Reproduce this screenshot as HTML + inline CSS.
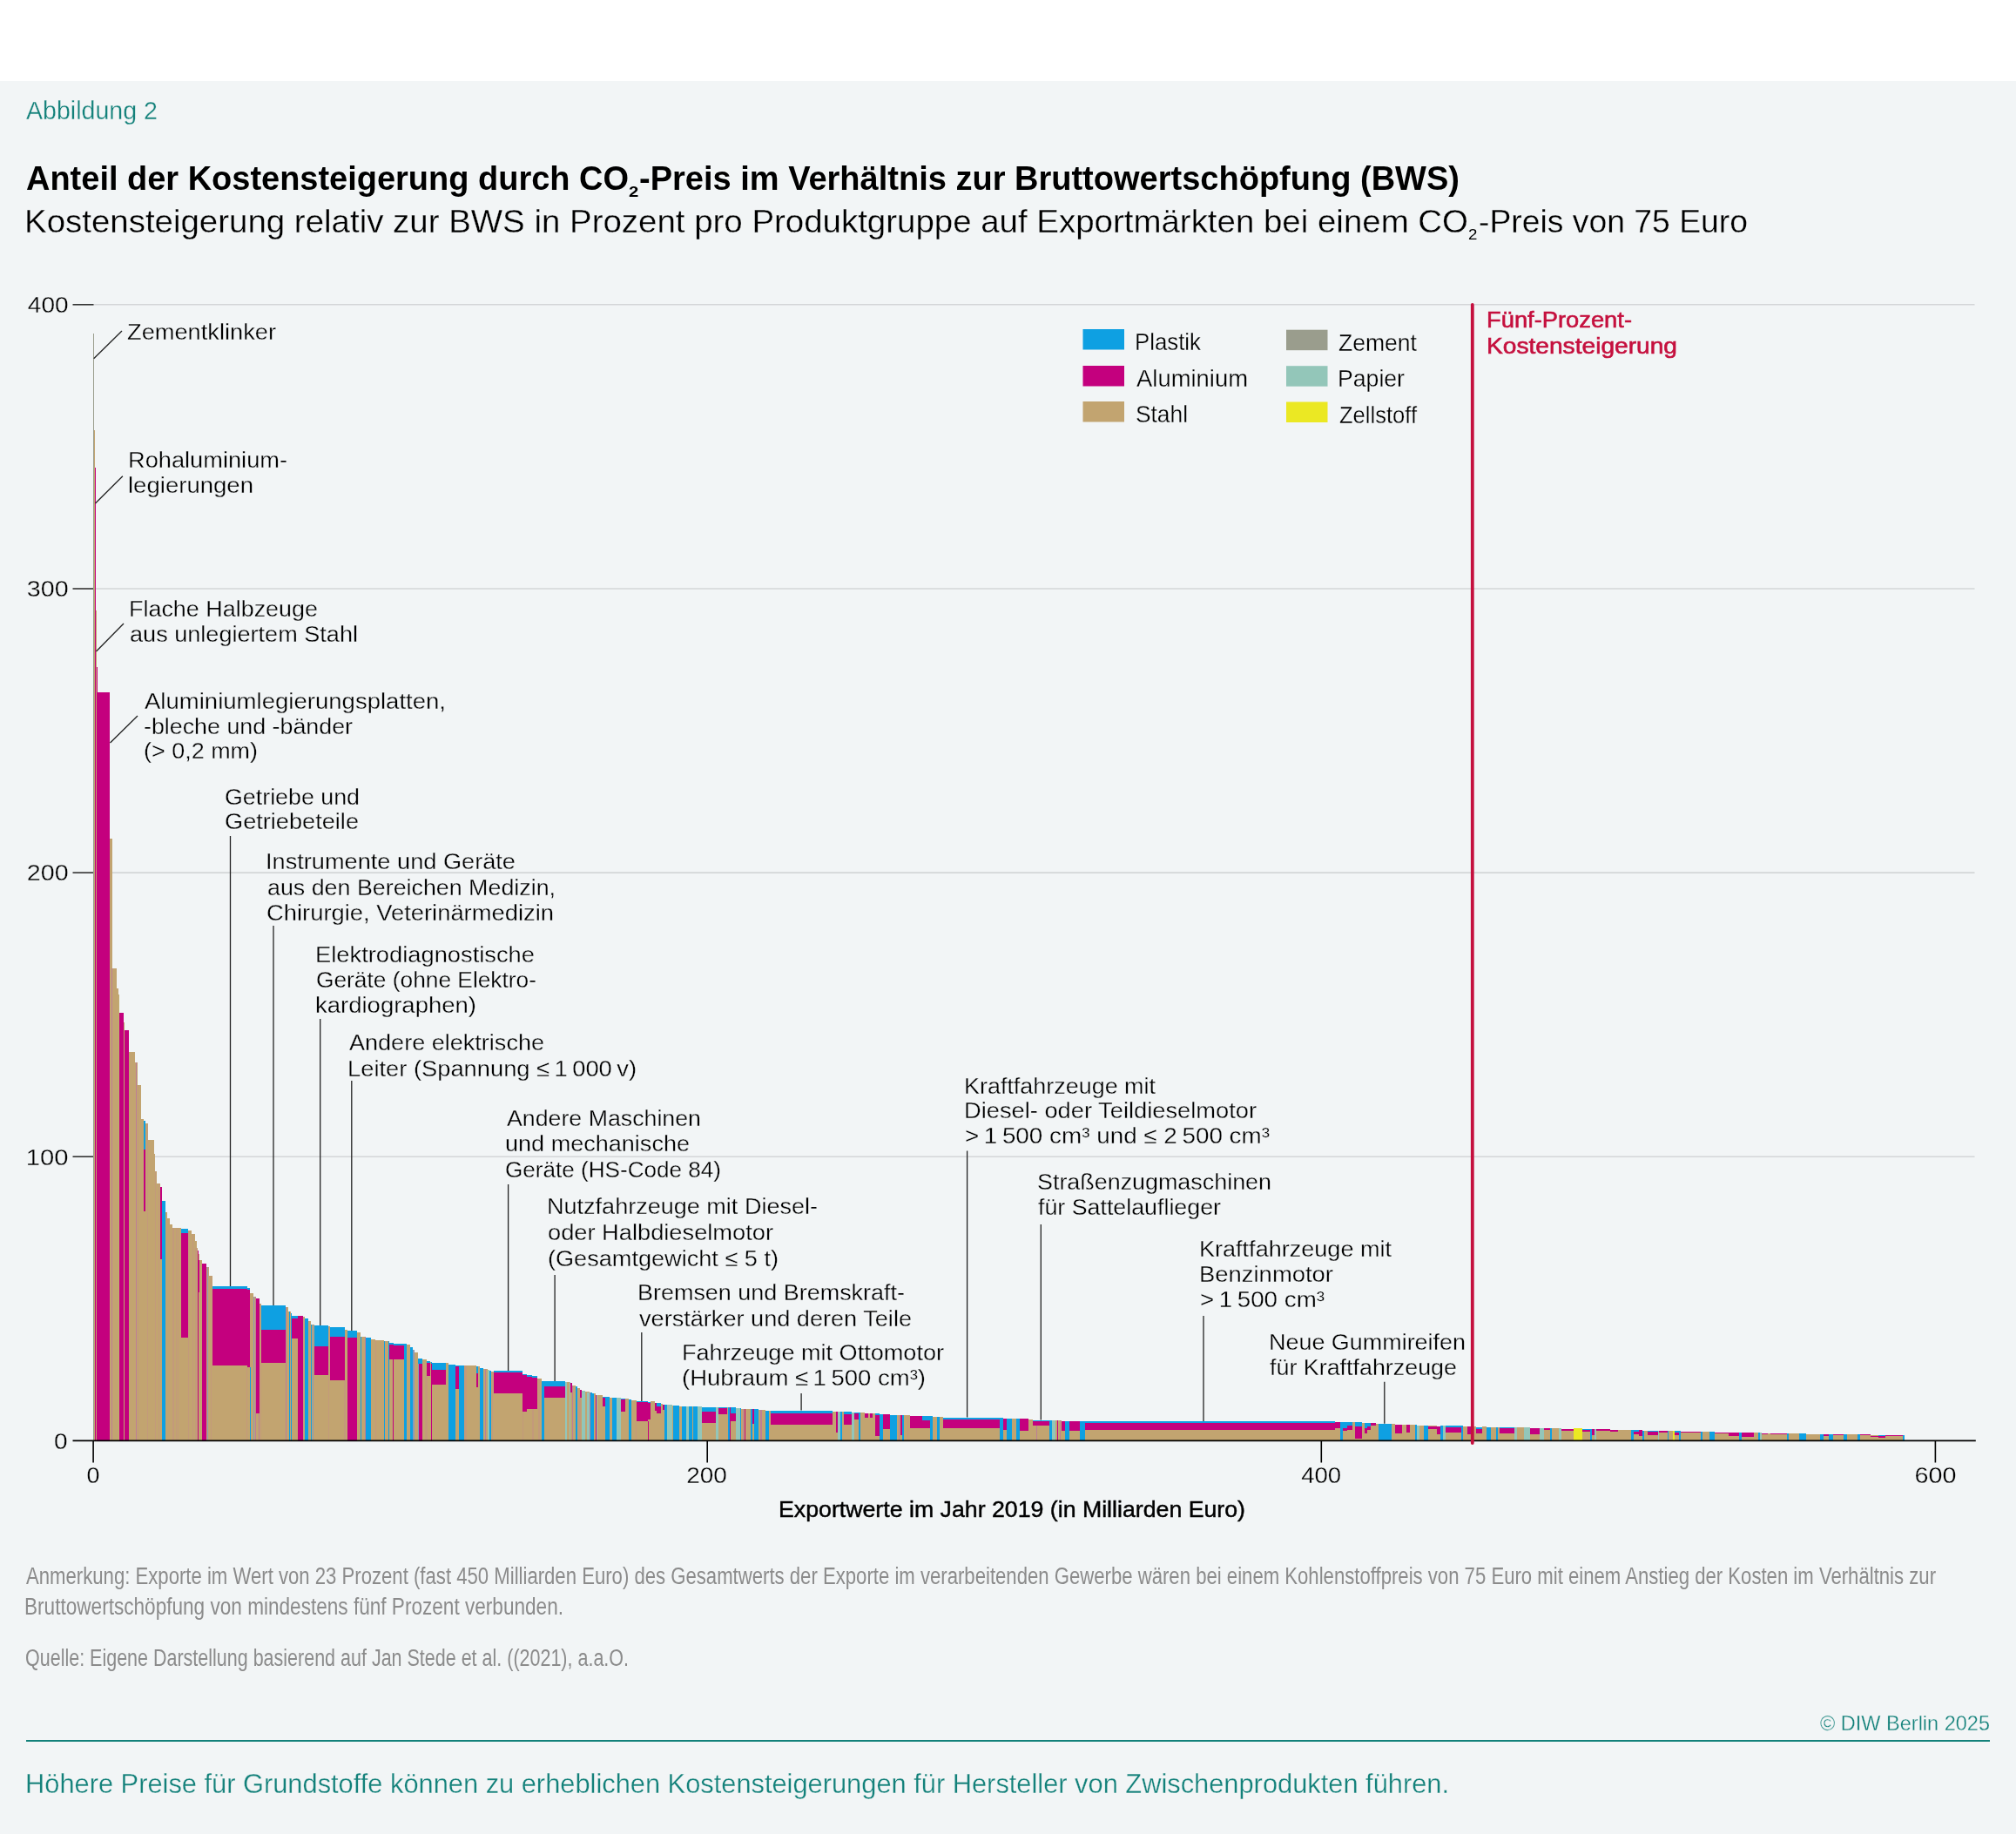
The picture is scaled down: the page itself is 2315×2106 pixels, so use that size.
<!DOCTYPE html>
<html lang="de"><head><meta charset="utf-8"><title>Abbildung 2 – DIW Berlin</title>
<style>
html,body{margin:0;padding:0;background:#f2f5f6;}
body{width:2315px;height:2106px;overflow:hidden;}
svg{display:block;font-family:'Liberation Sans', Arial, sans-serif;will-change:transform;}
</style></head><body>
<svg width="2315" height="2106" viewBox="0 0 2315 2106">
<rect x="0" y="0" width="2315" height="93" fill="#ffffff"/>
<rect x="0" y="93" width="2315" height="2013" fill="#f2f5f6"/>
<text x="30.00" y="137.0" font-size="29" fill="#13817a" textLength="151.00" lengthAdjust="spacingAndGlyphs" stroke="#f2f5f6" stroke-width="0.3">Abbildung 2</text>
<text x="30.00" y="217.6" font-size="39" fill="#000" font-weight="bold" textLength="692.00" lengthAdjust="spacingAndGlyphs">Anteil der Kostensteigerung durch CO</text>
<text x="722.00" y="226.0" font-size="17" fill="#000" font-weight="bold" textLength="11.30" lengthAdjust="spacingAndGlyphs">2</text>
<text x="734.00" y="217.6" font-size="39" fill="#000" font-weight="bold" textLength="942.00" lengthAdjust="spacingAndGlyphs">-Preis im Verhältnis zur Bruttowertschöpfung (BWS)</text>
<text x="28.00" y="266.7" font-size="37.5" fill="#000" textLength="1658.00" lengthAdjust="spacingAndGlyphs" stroke="#f2f5f6" stroke-width="0.3">Kostensteigerung relativ zur BWS in Prozent pro Produktgruppe auf Exportmärkten bei einem CO</text>
<text x="1686.00" y="274.8" font-size="17" fill="#000" textLength="10.40" lengthAdjust="spacingAndGlyphs">2</text>
<text x="1698.00" y="266.7" font-size="37.5" fill="#000" textLength="309.00" lengthAdjust="spacingAndGlyphs" stroke="#f2f5f6" stroke-width="0.3">-Preis von 75 Euro</text>
<line x1="107" y1="1328.2" x2="2267.5" y2="1328.2" stroke="#d3d6d7" stroke-width="1.6"/>
<line x1="83.5" y1="1328.2" x2="107.5" y2="1328.2" stroke="#333" stroke-width="1.6"/>
<line x1="107" y1="1002.1" x2="2267.5" y2="1002.1" stroke="#d3d6d7" stroke-width="1.6"/>
<line x1="83.5" y1="1002.1" x2="107.5" y2="1002.1" stroke="#333" stroke-width="1.6"/>
<line x1="107" y1="676.0" x2="2267.5" y2="676.0" stroke="#d3d6d7" stroke-width="1.6"/>
<line x1="83.5" y1="676.0" x2="107.5" y2="676.0" stroke="#333" stroke-width="1.6"/>
<line x1="107" y1="349.8" x2="2267.5" y2="349.8" stroke="#d3d6d7" stroke-width="1.6"/>
<line x1="83.5" y1="349.8" x2="107.5" y2="349.8" stroke="#333" stroke-width="1.6"/>
<text x="62.00" y="1663.7" font-size="26.5" fill="#000" textLength="15.60" lengthAdjust="spacingAndGlyphs" stroke="#f2f5f6" stroke-width="0.3">0</text>
<text x="29.80" y="1337.5" font-size="26.5" fill="#000" textLength="48.80" lengthAdjust="spacingAndGlyphs" stroke="#f2f5f6" stroke-width="0.3">100</text>
<text x="30.80" y="1011.4" font-size="26.5" fill="#000" textLength="47.80" lengthAdjust="spacingAndGlyphs" stroke="#f2f5f6" stroke-width="0.3">200</text>
<text x="30.80" y="685.3" font-size="26.5" fill="#000" textLength="47.80" lengthAdjust="spacingAndGlyphs" stroke="#f2f5f6" stroke-width="0.3">300</text>
<text x="31.80" y="359.1" font-size="26.5" fill="#000" textLength="46.80" lengthAdjust="spacingAndGlyphs" stroke="#f2f5f6" stroke-width="0.3">400</text>
<g shape-rendering="crispEdges">
<rect x="107.0" y="383.0" width="1.2" height="1271.4" fill="#9a9d8d"/>
<rect x="108.2" y="493.6" width="0.6" height="1160.8" fill="#c2a470"/>
<rect x="108.8" y="537.0" width="1.5" height="1117.4" fill="#c4007e"/>
<rect x="110.3" y="701.0" width="0.6" height="953.4" fill="#c2a470"/>
<rect x="110.9" y="766.0" width="1.1" height="888.4" fill="#c4007e"/>
<rect x="112.0" y="795.0" width="14.3" height="859.4" fill="#c4007e"/>
<rect x="126.3" y="963.0" width="2.2" height="691.4" fill="#c2a470"/>
<rect x="128.5" y="1050.0" width="0.5" height="604.4" fill="#c2a470"/>
<rect x="129.0" y="1112.0" width="4.5" height="542.4" fill="#c2a470"/>
<rect x="133.5" y="1135.0" width="2.5" height="519.4" fill="#c2a470"/>
<rect x="136.0" y="1142.0" width="1.0" height="512.4" fill="#c2a470"/>
<rect x="137.0" y="1163.0" width="4.8" height="491.4" fill="#c4007e"/>
<rect x="141.8" y="1174.0" width="1.2" height="480.4" fill="#c2a470"/>
<rect x="143.0" y="1183.0" width="5.0" height="471.4" fill="#c4007e"/>
<rect x="148.0" y="1208.0" width="7.0" height="446.4" fill="#c2a470"/>
<rect x="155.0" y="1220.0" width="2.5" height="434.4" fill="#c2a470"/>
<rect x="157.5" y="1246.0" width="4.5" height="408.4" fill="#c2a470"/>
<rect x="162.0" y="1285.0" width="3.0" height="369.4" fill="#c2a470"/>
<rect x="165.0" y="1287.0" width="2.0" height="33.0" fill="#0ea0e2"/>
<rect x="165.0" y="1320.0" width="2.0" height="71.0" fill="#c4007e"/>
<rect x="165.0" y="1391.0" width="2.0" height="263.4" fill="#c2a470"/>
<rect x="167.0" y="1290.0" width="3.0" height="364.4" fill="#c2a470"/>
<rect x="170.0" y="1309.0" width="6.5" height="345.4" fill="#c2a470"/>
<rect x="176.5" y="1325.0" width="1.5" height="329.4" fill="#c2a470"/>
<rect x="178.0" y="1345.0" width="2.0" height="309.4" fill="#c2a470"/>
<rect x="180.0" y="1359.0" width="4.0" height="295.4" fill="#c2a470"/>
<rect x="184.0" y="1363.0" width="1.5" height="83.0" fill="#c4007e"/>
<rect x="184.0" y="1446.0" width="1.5" height="208.4" fill="#c2a470"/>
<rect x="185.5" y="1379.0" width="4.0" height="275.4" fill="#0ea0e2"/>
<rect x="189.5" y="1392.0" width="2.5" height="262.4" fill="#c2a470"/>
<rect x="192.0" y="1399.0" width="3.0" height="255.4" fill="#c2a470"/>
<rect x="195.0" y="1406.0" width="3.0" height="248.4" fill="#c2a470"/>
<rect x="198.0" y="1410.0" width="10.0" height="244.4" fill="#c2a470"/>
<rect x="208.0" y="1411.0" width="8.0" height="5.0" fill="#0ea0e2"/>
<rect x="208.0" y="1416.0" width="8.0" height="120.0" fill="#c4007e"/>
<rect x="208.0" y="1536.0" width="8.0" height="118.4" fill="#c2a470"/>
<rect x="216.0" y="1413.0" width="4.0" height="241.4" fill="#c2a470"/>
<rect x="220.0" y="1417.0" width="4.0" height="237.4" fill="#c2a470"/>
<rect x="224.0" y="1425.0" width="1.5" height="229.4" fill="#c2a470"/>
<rect x="225.5" y="1433.0" width="1.4" height="221.4" fill="#c2a470"/>
<rect x="226.9" y="1436.0" width="1.1" height="218.4" fill="#c4007e"/>
<rect x="228.0" y="1440.0" width="1.0" height="7.0" fill="#c2a470"/>
<rect x="228.0" y="1447.0" width="1.0" height="37.0" fill="#c4007e"/>
<rect x="228.0" y="1484.0" width="1.0" height="170.4" fill="#c2a470"/>
<rect x="229.0" y="1447.0" width="3.0" height="207.4" fill="#c2a470"/>
<rect x="232.0" y="1451.0" width="5.0" height="203.4" fill="#c4007e"/>
<rect x="237.0" y="1455.0" width="3.0" height="199.4" fill="#c2a470"/>
<rect x="240.0" y="1465.0" width="4.0" height="189.4" fill="#c2a470"/>
<rect x="244.0" y="1477.0" width="40.0" height="3.0" fill="#0ea0e2"/>
<rect x="244.0" y="1480.0" width="40.0" height="88.0" fill="#c4007e"/>
<rect x="244.0" y="1568.0" width="40.0" height="86.4" fill="#c2a470"/>
<rect x="284.0" y="1479.0" width="3.0" height="2.0" fill="#0ea0e2"/>
<rect x="284.0" y="1481.0" width="3.0" height="89.0" fill="#c4007e"/>
<rect x="284.0" y="1570.0" width="3.0" height="84.4" fill="#c2a470"/>
<rect x="287.0" y="1485.0" width="4.0" height="169.4" fill="#c2a470"/>
<rect x="291.0" y="1489.0" width="3.0" height="165.4" fill="#c2a470"/>
<rect x="294.0" y="1491.0" width="3.6" height="132.0" fill="#c4007e"/>
<rect x="294.0" y="1623.0" width="3.6" height="31.4" fill="#c2a470"/>
<rect x="297.6" y="1497.0" width="2.4" height="157.4" fill="#c2a470"/>
<rect x="300.0" y="1499.0" width="27.5" height="27.5" fill="#0ea0e2"/>
<rect x="300.0" y="1526.5" width="27.5" height="38.5" fill="#c4007e"/>
<rect x="300.0" y="1565.0" width="27.5" height="89.4" fill="#c2a470"/>
<rect x="327.5" y="1501.0" width="3.5" height="153.4" fill="#c2a470"/>
<rect x="331.0" y="1506.0" width="3.0" height="148.4" fill="#c2a470"/>
<rect x="334.0" y="1508.0" width="1.0" height="146.4" fill="#0ea0e2"/>
<rect x="335.0" y="1511.0" width="7.0" height="3.0" fill="#0ea0e2"/>
<rect x="335.0" y="1514.0" width="7.0" height="23.0" fill="#c4007e"/>
<rect x="335.0" y="1537.0" width="7.0" height="117.4" fill="#c2a470"/>
<rect x="342.0" y="1511.0" width="6.0" height="143.4" fill="#c4007e"/>
<rect x="348.0" y="1512.0" width="2.0" height="142.4" fill="#c2a470"/>
<rect x="350.0" y="1514.0" width="4.0" height="140.4" fill="#0ea0e2"/>
<rect x="354.0" y="1517.0" width="3.0" height="137.4" fill="#c2a470"/>
<rect x="357.0" y="1521.0" width="3.5" height="133.4" fill="#c2a470"/>
<rect x="360.5" y="1522.0" width="16.5" height="24.0" fill="#0ea0e2"/>
<rect x="360.5" y="1546.0" width="16.5" height="33.0" fill="#c4007e"/>
<rect x="360.5" y="1579.0" width="16.5" height="75.4" fill="#c2a470"/>
<rect x="377.0" y="1523.0" width="1.5" height="131.4" fill="#c2a470"/>
<rect x="378.5" y="1524.0" width="17.0" height="11.0" fill="#0ea0e2"/>
<rect x="378.5" y="1535.0" width="17.0" height="50.0" fill="#c4007e"/>
<rect x="378.5" y="1585.0" width="17.0" height="69.4" fill="#c2a470"/>
<rect x="395.5" y="1527.0" width="3.0" height="127.4" fill="#c2a470"/>
<rect x="398.5" y="1528.0" width="11.5" height="8.0" fill="#0ea0e2"/>
<rect x="398.5" y="1536.0" width="11.5" height="118.4" fill="#c4007e"/>
<rect x="410.0" y="1530.0" width="4.0" height="124.4" fill="#c2a470"/>
<rect x="414.0" y="1535.0" width="6.0" height="119.4" fill="#c2a470"/>
<rect x="420.0" y="1536.0" width="6.0" height="118.4" fill="#0ea0e2"/>
<rect x="426.0" y="1538.0" width="5.0" height="116.4" fill="#c2a470"/>
<rect x="431.0" y="1539.0" width="10.0" height="115.4" fill="#c2a470"/>
<rect x="441.0" y="1540.0" width="6.0" height="114.4" fill="#c2a470"/>
<rect x="447.0" y="1542.0" width="5.0" height="2.0" fill="#0ea0e2"/>
<rect x="447.0" y="1544.0" width="5.0" height="17.0" fill="#c4007e"/>
<rect x="447.0" y="1561.0" width="5.0" height="93.4" fill="#c2a470"/>
<rect x="452.0" y="1543.0" width="11.5" height="2.0" fill="#0ea0e2"/>
<rect x="452.0" y="1545.0" width="11.5" height="16.0" fill="#c4007e"/>
<rect x="452.0" y="1561.0" width="11.5" height="93.4" fill="#c2a470"/>
<rect x="463.5" y="1543.0" width="3.5" height="111.4" fill="#0ea0e2"/>
<rect x="467.0" y="1544.0" width="4.0" height="110.4" fill="#c2a470"/>
<rect x="471.0" y="1547.0" width="3.0" height="107.4" fill="#0ea0e2"/>
<rect x="474.0" y="1550.0" width="2.0" height="104.4" fill="#8e9ab5"/>
<rect x="476.0" y="1553.0" width="4.0" height="101.4" fill="#c2a470"/>
<rect x="480.0" y="1560.0" width="5.0" height="6.0" fill="#0ea0e2"/>
<rect x="480.0" y="1566.0" width="5.0" height="88.4" fill="#c4007e"/>
<rect x="485.0" y="1561.0" width="5.0" height="93.4" fill="#c2a470"/>
<rect x="490.0" y="1563.0" width="4.0" height="2.0" fill="#0ea0e2"/>
<rect x="490.0" y="1565.0" width="4.0" height="15.0" fill="#c4007e"/>
<rect x="490.0" y="1580.0" width="4.0" height="74.4" fill="#c2a470"/>
<rect x="494.0" y="1564.0" width="0.6" height="90.4" fill="#c2a470"/>
<rect x="494.6" y="1564.0" width="1.2" height="2.0" fill="#0ea0e2"/>
<rect x="494.6" y="1566.0" width="1.2" height="88.4" fill="#c4007e"/>
<rect x="495.8" y="1564.6" width="1.2" height="8.4" fill="#0ea0e2"/>
<rect x="495.8" y="1573.0" width="1.2" height="17.0" fill="#c4007e"/>
<rect x="495.8" y="1590.0" width="1.2" height="64.4" fill="#c2a470"/>
<rect x="497.0" y="1564.6" width="14.5" height="8.4" fill="#0ea0e2"/>
<rect x="497.0" y="1573.0" width="14.5" height="17.0" fill="#c4007e"/>
<rect x="497.0" y="1590.0" width="14.5" height="64.4" fill="#c2a470"/>
<rect x="511.5" y="1565.4" width="3.5" height="89.0" fill="#c2a470"/>
<rect x="515.0" y="1567.2" width="7.5" height="87.2" fill="#0ea0e2"/>
<rect x="522.5" y="1568.0" width="4.0" height="1.0" fill="#0ea0e2"/>
<rect x="522.5" y="1569.0" width="4.0" height="26.0" fill="#c4007e"/>
<rect x="522.5" y="1595.0" width="4.0" height="59.4" fill="#c2a470"/>
<rect x="526.5" y="1568.0" width="6.5" height="86.4" fill="#0ea0e2"/>
<rect x="533.0" y="1568.0" width="2.0" height="86.4" fill="#c2a470"/>
<rect x="535.0" y="1568.2" width="12.0" height="86.2" fill="#c2a470"/>
<rect x="547.0" y="1569.0" width="2.0" height="8.0" fill="#0ea0e2"/>
<rect x="547.0" y="1577.0" width="2.0" height="16.0" fill="#c4007e"/>
<rect x="547.0" y="1593.0" width="2.0" height="61.4" fill="#c2a470"/>
<rect x="549.0" y="1569.4" width="2.0" height="85.0" fill="#c2a470"/>
<rect x="551.0" y="1570.5" width="4.0" height="83.9" fill="#0ea0e2"/>
<rect x="555.0" y="1572.0" width="5.0" height="82.4" fill="#c2a470"/>
<rect x="560.0" y="1573.0" width="2.0" height="81.4" fill="#93c6b9"/>
<rect x="562.0" y="1574.0" width="2.0" height="80.4" fill="#0ea0e2"/>
<rect x="564.0" y="1574.5" width="3.0" height="79.9" fill="#c2a470"/>
<rect x="567.0" y="1574.2" width="33.0" height="1.7" fill="#0ea0e2"/>
<rect x="567.0" y="1575.9" width="33.0" height="24.0" fill="#c4007e"/>
<rect x="567.0" y="1599.9" width="33.0" height="54.5" fill="#c2a470"/>
<rect x="600.0" y="1577.7" width="5.0" height="1.3" fill="#0ea0e2"/>
<rect x="600.0" y="1579.0" width="5.0" height="42.3" fill="#c4007e"/>
<rect x="600.0" y="1621.3" width="5.0" height="33.1" fill="#c2a470"/>
<rect x="605.0" y="1579.4" width="6.0" height="1.3" fill="#0ea0e2"/>
<rect x="605.0" y="1580.7" width="6.0" height="37.1" fill="#c4007e"/>
<rect x="605.0" y="1617.8" width="6.0" height="36.6" fill="#c2a470"/>
<rect x="611.0" y="1580.3" width="5.5" height="1.7" fill="#0ea0e2"/>
<rect x="611.0" y="1582.0" width="5.5" height="35.8" fill="#c4007e"/>
<rect x="611.0" y="1617.8" width="5.5" height="36.6" fill="#c2a470"/>
<rect x="616.5" y="1583.0" width="5.5" height="71.4" fill="#c2a470"/>
<rect x="622.0" y="1585.5" width="3.0" height="68.9" fill="#0ea0e2"/>
<rect x="625.0" y="1586.4" width="24.0" height="5.9" fill="#0ea0e2"/>
<rect x="625.0" y="1592.3" width="24.0" height="12.8" fill="#c4007e"/>
<rect x="625.0" y="1605.1" width="24.0" height="49.3" fill="#c2a470"/>
<rect x="649.0" y="1587.0" width="2.0" height="67.4" fill="#93c6b9"/>
<rect x="651.0" y="1587.1" width="4.0" height="67.3" fill="#c2a470"/>
<rect x="655.0" y="1588.4" width="2.0" height="10.6" fill="#c4007e"/>
<rect x="655.0" y="1599.0" width="2.0" height="55.4" fill="#c2a470"/>
<rect x="657.0" y="1591.2" width="4.0" height="63.2" fill="#c2a470"/>
<rect x="661.0" y="1592.4" width="2.0" height="62.0" fill="#0ea0e2"/>
<rect x="663.0" y="1594.4" width="3.0" height="60.0" fill="#c2a470"/>
<rect x="666.0" y="1596.3" width="2.0" height="8.7" fill="#c4007e"/>
<rect x="666.0" y="1605.0" width="2.0" height="49.4" fill="#c2a470"/>
<rect x="668.0" y="1597.1" width="4.0" height="57.3" fill="#93c6b9"/>
<rect x="672.0" y="1597.5" width="4.5" height="56.9" fill="#c2a470"/>
<rect x="676.5" y="1599.0" width="3.5" height="55.4" fill="#0ea0e2"/>
<rect x="680.0" y="1600.3" width="4.0" height="54.1" fill="#c2a470"/>
<rect x="684.0" y="1602.0" width="8.0" height="52.4" fill="#c2a470"/>
<rect x="692.0" y="1604.0" width="3.0" height="1.0" fill="#0ea0e2"/>
<rect x="692.0" y="1605.0" width="3.0" height="9.6" fill="#c4007e"/>
<rect x="692.0" y="1614.6" width="3.0" height="39.8" fill="#c2a470"/>
<rect x="695.0" y="1603.9" width="5.0" height="50.5" fill="#0ea0e2"/>
<rect x="700.0" y="1604.5" width="2.5" height="49.9" fill="#c2a470"/>
<rect x="702.5" y="1605.0" width="5.5" height="49.4" fill="#0ea0e2"/>
<rect x="708.0" y="1605.0" width="5.0" height="49.4" fill="#93c6b9"/>
<rect x="713.0" y="1605.9" width="5.0" height="0.8" fill="#0ea0e2"/>
<rect x="713.0" y="1606.7" width="5.0" height="14.3" fill="#c4007e"/>
<rect x="713.0" y="1621.0" width="5.0" height="33.4" fill="#c2a470"/>
<rect x="718.0" y="1605.5" width="4.0" height="48.9" fill="#c2a470"/>
<rect x="722.0" y="1607.0" width="3.0" height="47.4" fill="#0ea0e2"/>
<rect x="725.0" y="1608.3" width="5.5" height="46.1" fill="#c2a470"/>
<rect x="730.5" y="1609.3" width="13.5" height="0.7" fill="#0ea0e2"/>
<rect x="730.5" y="1610.0" width="13.5" height="22.1" fill="#c4007e"/>
<rect x="730.5" y="1632.1" width="13.5" height="22.3" fill="#c2a470"/>
<rect x="744.0" y="1609.5" width="3.0" height="1.5" fill="#0ea0e2"/>
<rect x="744.0" y="1611.0" width="3.0" height="19.0" fill="#c4007e"/>
<rect x="744.0" y="1630.0" width="3.0" height="24.4" fill="#c2a470"/>
<rect x="747.0" y="1609.4" width="5.0" height="45.0" fill="#c2a470"/>
<rect x="752.0" y="1611.0" width="1.5" height="9.0" fill="#c4007e"/>
<rect x="752.0" y="1620.0" width="1.5" height="34.4" fill="#c2a470"/>
<rect x="753.5" y="1611.0" width="5.5" height="4.0" fill="#0ea0e2"/>
<rect x="753.5" y="1615.0" width="5.5" height="8.0" fill="#c4007e"/>
<rect x="753.5" y="1623.0" width="5.5" height="31.4" fill="#c2a470"/>
<rect x="759.0" y="1612.0" width="2.0" height="42.4" fill="#c2a470"/>
<rect x="761.0" y="1612.6" width="2.0" height="6.8" fill="#c4007e"/>
<rect x="761.0" y="1619.4" width="2.0" height="35.0" fill="#c2a470"/>
<rect x="763.0" y="1613.0" width="2.5" height="41.4" fill="#0ea0e2"/>
<rect x="765.5" y="1613.0" width="6.5" height="41.4" fill="#93c6b9"/>
<rect x="772.0" y="1614.0" width="1.0" height="40.4" fill="#c2a470"/>
<rect x="773.0" y="1614.0" width="7.0" height="40.4" fill="#0ea0e2"/>
<rect x="780.0" y="1614.5" width="3.0" height="39.9" fill="#c2a470"/>
<rect x="783.0" y="1614.6" width="5.0" height="39.8" fill="#0ea0e2"/>
<rect x="788.0" y="1615.0" width="3.0" height="39.4" fill="#93c6b9"/>
<rect x="791.0" y="1615.0" width="4.0" height="39.4" fill="#0ea0e2"/>
<rect x="795.0" y="1615.0" width="1.0" height="39.4" fill="#c2a470"/>
<rect x="796.0" y="1615.0" width="5.0" height="39.4" fill="#0ea0e2"/>
<rect x="801.0" y="1615.0" width="5.0" height="39.4" fill="#93c6b9"/>
<rect x="806.0" y="1615.6" width="16.0" height="5.6" fill="#0ea0e2"/>
<rect x="806.0" y="1621.2" width="16.0" height="12.7" fill="#c4007e"/>
<rect x="806.0" y="1633.9" width="16.0" height="20.5" fill="#c2a470"/>
<rect x="822.0" y="1615.6" width="3.0" height="38.8" fill="#93c6b9"/>
<rect x="825.0" y="1616.0" width="10.0" height="1.0" fill="#0ea0e2"/>
<rect x="825.0" y="1617.0" width="10.0" height="7.4" fill="#c4007e"/>
<rect x="825.0" y="1624.4" width="10.0" height="30.0" fill="#c2a470"/>
<rect x="835.0" y="1616.0" width="1.3" height="38.4" fill="#c2a470"/>
<rect x="836.3" y="1616.0" width="2.7" height="38.4" fill="#0ea0e2"/>
<rect x="839.0" y="1616.4" width="5.5" height="6.4" fill="#0ea0e2"/>
<rect x="839.0" y="1622.8" width="5.5" height="9.5" fill="#c4007e"/>
<rect x="839.0" y="1632.3" width="5.5" height="22.1" fill="#c2a470"/>
<rect x="844.5" y="1616.5" width="5.5" height="37.9" fill="#93c6b9"/>
<rect x="850.0" y="1617.0" width="1.0" height="37.4" fill="#0ea0e2"/>
<rect x="851.0" y="1617.5" width="11.0" height="36.9" fill="#c2a470"/>
<rect x="862.0" y="1618.0" width="2.2" height="36.4" fill="#0ea0e2"/>
<rect x="864.2" y="1618.0" width="1.8" height="17.0" fill="#c4007e"/>
<rect x="864.2" y="1635.0" width="1.8" height="19.4" fill="#c2a470"/>
<rect x="866.0" y="1618.2" width="2.0" height="36.2" fill="#0ea0e2"/>
<rect x="868.0" y="1618.3" width="3.0" height="36.1" fill="#0ea0e2"/>
<rect x="871.0" y="1619.0" width="8.0" height="35.4" fill="#c2a470"/>
<rect x="879.0" y="1619.6" width="4.0" height="34.8" fill="#0ea0e2"/>
<rect x="883.0" y="1619.6" width="1.5" height="34.8" fill="#c2a470"/>
<rect x="884.5" y="1619.8" width="71.5" height="2.7" fill="#0ea0e2"/>
<rect x="884.5" y="1622.5" width="71.5" height="13.0" fill="#c4007e"/>
<rect x="884.5" y="1635.5" width="71.5" height="18.9" fill="#c2a470"/>
<rect x="956.0" y="1620.5" width="4.0" height="33.9" fill="#c2a470"/>
<rect x="960.0" y="1620.6" width="2.0" height="24.4" fill="#c4007e"/>
<rect x="960.0" y="1645.0" width="2.0" height="9.4" fill="#c2a470"/>
<rect x="962.0" y="1620.8" width="3.0" height="33.6" fill="#93c6b9"/>
<rect x="965.0" y="1620.8" width="2.0" height="33.6" fill="#0ea0e2"/>
<rect x="967.0" y="1621.0" width="2.0" height="33.4" fill="#c2a470"/>
<rect x="969.0" y="1621.0" width="9.0" height="2.7" fill="#0ea0e2"/>
<rect x="969.0" y="1623.7" width="9.0" height="12.7" fill="#c4007e"/>
<rect x="969.0" y="1636.4" width="9.0" height="18.0" fill="#c2a470"/>
<rect x="978.0" y="1621.5" width="3.0" height="32.9" fill="#93c6b9"/>
<rect x="981.0" y="1621.7" width="5.0" height="0.8" fill="#0ea0e2"/>
<rect x="981.0" y="1622.5" width="5.0" height="7.5" fill="#c4007e"/>
<rect x="981.0" y="1630.0" width="5.0" height="24.4" fill="#c2a470"/>
<rect x="986.0" y="1622.0" width="2.0" height="32.4" fill="#0ea0e2"/>
<rect x="988.0" y="1622.1" width="5.0" height="32.3" fill="#c2a470"/>
<rect x="993.0" y="1622.5" width="4.0" height="5.2" fill="#c4007e"/>
<rect x="993.0" y="1627.7" width="4.0" height="26.7" fill="#c2a470"/>
<rect x="997.0" y="1622.5" width="2.0" height="31.9" fill="#c2a470"/>
<rect x="999.0" y="1622.5" width="2.5" height="5.2" fill="#c4007e"/>
<rect x="999.0" y="1627.7" width="2.5" height="26.7" fill="#c2a470"/>
<rect x="1001.5" y="1623.0" width="3.5" height="31.4" fill="#c2a470"/>
<rect x="1005.0" y="1623.0" width="5.0" height="2.3" fill="#0ea0e2"/>
<rect x="1005.0" y="1625.3" width="5.0" height="23.4" fill="#c4007e"/>
<rect x="1005.0" y="1648.7" width="5.0" height="5.7" fill="#c2a470"/>
<rect x="1010.0" y="1623.5" width="3.5" height="30.9" fill="#0ea0e2"/>
<rect x="1013.5" y="1624.0" width="8.5" height="16.8" fill="#c4007e"/>
<rect x="1013.5" y="1640.8" width="8.5" height="13.6" fill="#c2a470"/>
<rect x="1022.0" y="1624.5" width="8.0" height="29.9" fill="#0ea0e2"/>
<rect x="1030.0" y="1625.0" width="4.0" height="29.4" fill="#c2a470"/>
<rect x="1034.0" y="1625.0" width="2.0" height="23.0" fill="#c4007e"/>
<rect x="1034.0" y="1648.0" width="2.0" height="6.4" fill="#c2a470"/>
<rect x="1036.0" y="1625.0" width="2.0" height="29.4" fill="#0ea0e2"/>
<rect x="1038.0" y="1625.3" width="7.0" height="29.1" fill="#c2a470"/>
<rect x="1045.0" y="1626.3" width="14.0" height="13.9" fill="#c4007e"/>
<rect x="1045.0" y="1640.2" width="14.0" height="14.2" fill="#c2a470"/>
<rect x="1059.0" y="1626.3" width="9.0" height="4.2" fill="#0ea0e2"/>
<rect x="1059.0" y="1630.5" width="9.0" height="9.3" fill="#c4007e"/>
<rect x="1059.0" y="1639.8" width="9.0" height="14.6" fill="#c2a470"/>
<rect x="1068.0" y="1626.4" width="3.0" height="28.0" fill="#0ea0e2"/>
<rect x="1071.0" y="1626.7" width="5.0" height="27.7" fill="#c2a470"/>
<rect x="1076.0" y="1627.1" width="3.0" height="27.3" fill="#0ea0e2"/>
<rect x="1079.0" y="1627.3" width="4.0" height="27.1" fill="#c2a470"/>
<rect x="1083.0" y="1627.5" width="64.5" height="2.4" fill="#0ea0e2"/>
<rect x="1083.0" y="1629.9" width="64.5" height="10.1" fill="#c4007e"/>
<rect x="1083.0" y="1640.0" width="64.5" height="14.4" fill="#c2a470"/>
<rect x="1147.5" y="1627.8" width="4.5" height="26.6" fill="#0ea0e2"/>
<rect x="1152.0" y="1628.5" width="4.0" height="13.1" fill="#c4007e"/>
<rect x="1152.0" y="1641.6" width="4.0" height="12.8" fill="#c2a470"/>
<rect x="1156.0" y="1628.5" width="6.0" height="25.9" fill="#0ea0e2"/>
<rect x="1162.0" y="1628.5" width="5.0" height="25.9" fill="#c2a470"/>
<rect x="1167.0" y="1629.0" width="4.0" height="25.4" fill="#0ea0e2"/>
<rect x="1171.0" y="1629.3" width="10.0" height="13.9" fill="#c4007e"/>
<rect x="1171.0" y="1643.2" width="10.0" height="11.2" fill="#c2a470"/>
<rect x="1181.0" y="1629.8" width="5.0" height="24.6" fill="#c2a470"/>
<rect x="1186.0" y="1630.5" width="18.5" height="1.5" fill="#0ea0e2"/>
<rect x="1186.0" y="1632.0" width="18.5" height="5.0" fill="#c4007e"/>
<rect x="1186.0" y="1637.0" width="18.5" height="17.4" fill="#c2a470"/>
<rect x="1204.5" y="1630.6" width="3.5" height="23.8" fill="#0ea0e2"/>
<rect x="1208.0" y="1630.6" width="4.0" height="23.8" fill="#93c6b9"/>
<rect x="1212.0" y="1631.0" width="7.0" height="23.4" fill="#c2a470"/>
<rect x="1219.0" y="1631.7" width="4.0" height="11.3" fill="#c4007e"/>
<rect x="1219.0" y="1643.0" width="4.0" height="11.4" fill="#c2a470"/>
<rect x="1223.0" y="1631.8" width="5.0" height="22.6" fill="#0ea0e2"/>
<rect x="1228.0" y="1632.0" width="12.0" height="11.0" fill="#c4007e"/>
<rect x="1228.0" y="1643.0" width="12.0" height="11.4" fill="#c2a470"/>
<rect x="1240.0" y="1632.0" width="5.5" height="22.4" fill="#0ea0e2"/>
<rect x="1245.5" y="1631.9" width="287.0" height="2.1" fill="#0ea0e2"/>
<rect x="1245.5" y="1634.0" width="287.0" height="8.2" fill="#c4007e"/>
<rect x="1245.5" y="1642.2" width="287.0" height="12.2" fill="#c2a470"/>
<rect x="1532.5" y="1632.5" width="6.5" height="7.1" fill="#c4007e"/>
<rect x="1532.5" y="1639.6" width="6.5" height="14.8" fill="#c2a470"/>
<rect x="1539.0" y="1633.0" width="3.0" height="21.4" fill="#0ea0e2"/>
<rect x="1542.0" y="1633.0" width="5.0" height="7.0" fill="#0ea0e2"/>
<rect x="1542.0" y="1640.0" width="5.0" height="3.0" fill="#c4007e"/>
<rect x="1542.0" y="1643.0" width="5.0" height="11.4" fill="#c2a470"/>
<rect x="1547.0" y="1633.0" width="6.0" height="3.8" fill="#0ea0e2"/>
<rect x="1547.0" y="1636.8" width="6.0" height="4.8" fill="#c4007e"/>
<rect x="1547.0" y="1641.6" width="6.0" height="12.8" fill="#c2a470"/>
<rect x="1553.0" y="1633.2" width="3.0" height="21.2" fill="#c2a470"/>
<rect x="1556.0" y="1633.3" width="8.0" height="4.3" fill="#0ea0e2"/>
<rect x="1556.0" y="1637.6" width="8.0" height="14.3" fill="#c4007e"/>
<rect x="1556.0" y="1651.9" width="8.0" height="2.5" fill="#c2a470"/>
<rect x="1564.0" y="1633.5" width="3.0" height="20.9" fill="#c2a470"/>
<rect x="1567.0" y="1634.0" width="3.0" height="6.0" fill="#0ea0e2"/>
<rect x="1567.0" y="1640.0" width="3.0" height="5.6" fill="#c4007e"/>
<rect x="1567.0" y="1645.6" width="3.0" height="8.8" fill="#c2a470"/>
<rect x="1570.0" y="1634.0" width="4.0" height="3.6" fill="#0ea0e2"/>
<rect x="1570.0" y="1637.6" width="4.0" height="4.0" fill="#c4007e"/>
<rect x="1570.0" y="1641.6" width="4.0" height="12.8" fill="#c2a470"/>
<rect x="1574.0" y="1634.4" width="6.0" height="2.1" fill="#c4007e"/>
<rect x="1574.0" y="1636.5" width="6.0" height="17.9" fill="#c2a470"/>
<rect x="1580.0" y="1634.6" width="3.0" height="19.8" fill="#c2a470"/>
<rect x="1583.0" y="1634.8" width="15.0" height="19.6" fill="#0ea0e2"/>
<rect x="1598.0" y="1635.0" width="4.0" height="19.4" fill="#c2a470"/>
<rect x="1602.0" y="1635.6" width="8.0" height="10.0" fill="#c4007e"/>
<rect x="1602.0" y="1645.6" width="8.0" height="8.8" fill="#c2a470"/>
<rect x="1610.0" y="1635.8" width="5.0" height="18.6" fill="#c2a470"/>
<rect x="1615.0" y="1636.0" width="4.0" height="8.8" fill="#c4007e"/>
<rect x="1615.0" y="1644.8" width="4.0" height="9.6" fill="#c2a470"/>
<rect x="1619.0" y="1636.0" width="6.0" height="18.4" fill="#c2a470"/>
<rect x="1625.0" y="1636.2" width="2.0" height="18.2" fill="#0ea0e2"/>
<rect x="1627.0" y="1636.5" width="3.0" height="17.9" fill="#93c6b9"/>
<rect x="1630.0" y="1636.6" width="5.0" height="17.8" fill="#c2a470"/>
<rect x="1635.0" y="1636.8" width="5.0" height="17.6" fill="#0ea0e2"/>
<rect x="1640.0" y="1637.0" width="10.0" height="0.6" fill="#c2a470"/>
<rect x="1640.0" y="1637.6" width="10.0" height="3.2" fill="#c4007e"/>
<rect x="1640.0" y="1640.8" width="10.0" height="13.6" fill="#c2a470"/>
<rect x="1650.0" y="1637.6" width="4.0" height="9.1" fill="#c4007e"/>
<rect x="1650.0" y="1646.7" width="4.0" height="7.7" fill="#c2a470"/>
<rect x="1654.0" y="1637.0" width="3.0" height="17.4" fill="#0ea0e2"/>
<rect x="1657.0" y="1637.2" width="3.0" height="17.2" fill="#93c6b9"/>
<rect x="1660.0" y="1637.3" width="17.5" height="2.0" fill="#0ea0e2"/>
<rect x="1660.0" y="1639.3" width="17.5" height="5.5" fill="#c4007e"/>
<rect x="1660.0" y="1644.8" width="17.5" height="9.6" fill="#c2a470"/>
<rect x="1677.5" y="1637.4" width="2.5" height="17.0" fill="#0ea0e2"/>
<rect x="1680.0" y="1637.5" width="5.0" height="16.9" fill="#c2a470"/>
<rect x="1685.0" y="1638.0" width="5.0" height="9.2" fill="#c4007e"/>
<rect x="1685.0" y="1647.2" width="5.0" height="7.2" fill="#c2a470"/>
<rect x="1690.0" y="1638.2" width="5.0" height="16.2" fill="#c2a470"/>
<rect x="1695.0" y="1638.5" width="7.0" height="2.4" fill="#0ea0e2"/>
<rect x="1695.0" y="1640.9" width="7.0" height="5.0" fill="#c4007e"/>
<rect x="1695.0" y="1645.9" width="7.0" height="8.5" fill="#c2a470"/>
<rect x="1702.0" y="1638.3" width="5.0" height="16.1" fill="#c2a470"/>
<rect x="1707.0" y="1638.5" width="5.0" height="15.9" fill="#0ea0e2"/>
<rect x="1712.0" y="1638.7" width="6.0" height="15.7" fill="#c2a470"/>
<rect x="1718.0" y="1638.8" width="2.0" height="15.6" fill="#0ea0e2"/>
<rect x="1720.0" y="1638.8" width="2.0" height="15.6" fill="#c2a470"/>
<rect x="1722.0" y="1638.9" width="17.0" height="1.1" fill="#0ea0e2"/>
<rect x="1722.0" y="1640.0" width="17.0" height="5.9" fill="#c4007e"/>
<rect x="1722.0" y="1645.9" width="17.0" height="8.5" fill="#c2a470"/>
<rect x="1739.0" y="1638.9" width="3.0" height="15.5" fill="#93c6b9"/>
<rect x="1742.0" y="1639.0" width="8.0" height="15.4" fill="#c2a470"/>
<rect x="1750.0" y="1639.2" width="7.0" height="15.2" fill="#93c6b9"/>
<rect x="1757.0" y="1639.5" width="11.0" height="7.3" fill="#c4007e"/>
<rect x="1757.0" y="1646.8" width="11.0" height="7.6" fill="#c2a470"/>
<rect x="1768.0" y="1639.6" width="5.0" height="14.8" fill="#93c6b9"/>
<rect x="1773.0" y="1640.0" width="7.0" height="2.0" fill="#c4007e"/>
<rect x="1773.0" y="1642.0" width="7.0" height="12.4" fill="#c2a470"/>
<rect x="1780.0" y="1640.0" width="2.0" height="14.4" fill="#0ea0e2"/>
<rect x="1782.0" y="1640.0" width="8.0" height="14.4" fill="#c2a470"/>
<rect x="1790.0" y="1640.2" width="3.0" height="14.2" fill="#93c6b9"/>
<rect x="1793.0" y="1640.5" width="14.0" height="2.5" fill="#c4007e"/>
<rect x="1793.0" y="1643.0" width="14.0" height="11.4" fill="#c2a470"/>
<rect x="1807.0" y="1640.0" width="10.0" height="14.4" fill="#ebe823"/>
<rect x="1817.0" y="1640.5" width="9.0" height="1.5" fill="#0ea0e2"/>
<rect x="1817.0" y="1642.0" width="9.0" height="2.0" fill="#c4007e"/>
<rect x="1817.0" y="1644.0" width="9.0" height="10.4" fill="#c2a470"/>
<rect x="1826.0" y="1640.8" width="1.5" height="13.6" fill="#0ea0e2"/>
<rect x="1827.5" y="1641.0" width="3.5" height="7.0" fill="#c4007e"/>
<rect x="1827.5" y="1648.0" width="3.5" height="6.4" fill="#c2a470"/>
<rect x="1831.0" y="1641.0" width="2.0" height="13.4" fill="#93c6b9"/>
<rect x="1833.0" y="1641.0" width="10.0" height="2.0" fill="#c4007e"/>
<rect x="1833.0" y="1643.0" width="10.0" height="11.4" fill="#c2a470"/>
<rect x="1843.0" y="1641.3" width="6.0" height="1.7" fill="#c4007e"/>
<rect x="1843.0" y="1643.0" width="6.0" height="11.4" fill="#c2a470"/>
<rect x="1849.0" y="1641.7" width="9.0" height="2.3" fill="#c4007e"/>
<rect x="1849.0" y="1644.0" width="9.0" height="10.4" fill="#c2a470"/>
<rect x="1858.0" y="1642.0" width="15.0" height="12.4" fill="#c2a470"/>
<rect x="1873.0" y="1642.0" width="3.0" height="12.4" fill="#0ea0e2"/>
<rect x="1876.0" y="1642.2" width="6.0" height="1.8" fill="#0ea0e2"/>
<rect x="1876.0" y="1644.0" width="6.0" height="3.0" fill="#c4007e"/>
<rect x="1876.0" y="1647.0" width="6.0" height="7.4" fill="#c2a470"/>
<rect x="1882.0" y="1642.4" width="4.0" height="6.6" fill="#c4007e"/>
<rect x="1882.0" y="1649.0" width="4.0" height="5.4" fill="#c2a470"/>
<rect x="1886.0" y="1642.5" width="2.0" height="11.9" fill="#0ea0e2"/>
<rect x="1888.0" y="1642.6" width="4.0" height="11.8" fill="#c2a470"/>
<rect x="1892.0" y="1643.0" width="12.0" height="0.7" fill="#0ea0e2"/>
<rect x="1892.0" y="1643.7" width="12.0" height="4.3" fill="#c4007e"/>
<rect x="1892.0" y="1648.0" width="12.0" height="6.4" fill="#c2a470"/>
<rect x="1904.0" y="1643.0" width="1.0" height="11.4" fill="#93c6b9"/>
<rect x="1905.0" y="1643.0" width="10.0" height="2.0" fill="#c4007e"/>
<rect x="1905.0" y="1645.0" width="10.0" height="9.4" fill="#c2a470"/>
<rect x="1915.0" y="1643.0" width="1.0" height="11.4" fill="#0ea0e2"/>
<rect x="1916.0" y="1643.2" width="5.0" height="11.2" fill="#c2a470"/>
<rect x="1921.0" y="1643.2" width="2.0" height="11.2" fill="#ebe823"/>
<rect x="1923.0" y="1643.3" width="5.0" height="1.7" fill="#0ea0e2"/>
<rect x="1923.0" y="1645.0" width="5.0" height="3.0" fill="#c4007e"/>
<rect x="1923.0" y="1648.0" width="5.0" height="6.4" fill="#c2a470"/>
<rect x="1928.0" y="1643.4" width="2.0" height="11.0" fill="#0ea0e2"/>
<rect x="1930.0" y="1643.5" width="23.0" height="1.5" fill="#c4007e"/>
<rect x="1930.0" y="1645.0" width="23.0" height="9.4" fill="#c2a470"/>
<rect x="1953.0" y="1643.8" width="2.0" height="10.6" fill="#0ea0e2"/>
<rect x="1955.0" y="1644.0" width="8.0" height="10.4" fill="#c2a470"/>
<rect x="1963.0" y="1644.2" width="5.5" height="10.2" fill="#0ea0e2"/>
<rect x="1968.5" y="1644.5" width="16.5" height="1.0" fill="#c4007e"/>
<rect x="1968.5" y="1645.5" width="16.5" height="8.9" fill="#c2a470"/>
<rect x="1985.0" y="1644.8" width="12.0" height="3.9" fill="#c4007e"/>
<rect x="1985.0" y="1648.7" width="12.0" height="5.7" fill="#c2a470"/>
<rect x="1997.0" y="1645.0" width="3.0" height="9.4" fill="#0ea0e2"/>
<rect x="2000.0" y="1645.0" width="14.0" height="4.9" fill="#c4007e"/>
<rect x="2000.0" y="1649.9" width="14.0" height="4.5" fill="#c2a470"/>
<rect x="2014.0" y="1645.2" width="5.0" height="9.2" fill="#c2a470"/>
<rect x="2019.0" y="1645.3" width="1.5" height="9.1" fill="#0ea0e2"/>
<rect x="2020.5" y="1645.3" width="2.5" height="9.1" fill="#93c6b9"/>
<rect x="2023.0" y="1645.5" width="7.0" height="1.5" fill="#c4007e"/>
<rect x="2023.0" y="1647.0" width="7.0" height="7.4" fill="#c2a470"/>
<rect x="2030.0" y="1645.6" width="3.0" height="8.8" fill="#c2a470"/>
<rect x="2033.0" y="1646.0" width="19.0" height="1.0" fill="#c4007e"/>
<rect x="2033.0" y="1647.0" width="19.0" height="7.4" fill="#c2a470"/>
<rect x="2052.0" y="1646.0" width="2.0" height="8.4" fill="#0ea0e2"/>
<rect x="2054.0" y="1646.2" width="12.0" height="8.2" fill="#c2a470"/>
<rect x="2066.0" y="1646.3" width="8.0" height="8.1" fill="#0ea0e2"/>
<rect x="2074.0" y="1646.5" width="16.0" height="7.9" fill="#c2a470"/>
<rect x="2090.0" y="1646.6" width="4.0" height="7.8" fill="#0ea0e2"/>
<rect x="2094.0" y="1646.7" width="6.0" height="1.8" fill="#c4007e"/>
<rect x="2094.0" y="1648.5" width="6.0" height="5.9" fill="#c2a470"/>
<rect x="2100.0" y="1646.8" width="5.0" height="7.6" fill="#0ea0e2"/>
<rect x="2105.0" y="1647.0" width="12.0" height="1.0" fill="#c4007e"/>
<rect x="2105.0" y="1648.0" width="12.0" height="6.4" fill="#c2a470"/>
<rect x="2117.0" y="1647.1" width="4.0" height="7.3" fill="#0ea0e2"/>
<rect x="2121.0" y="1647.2" width="12.0" height="7.2" fill="#c2a470"/>
<rect x="2133.0" y="1647.3" width="2.5" height="7.1" fill="#0ea0e2"/>
<rect x="2135.5" y="1647.4" width="12.5" height="0.9" fill="#c4007e"/>
<rect x="2135.5" y="1648.3" width="12.5" height="6.1" fill="#c2a470"/>
<rect x="2148.0" y="1647.5" width="9.0" height="1.0" fill="#c2a470"/>
<rect x="2148.0" y="1648.5" width="9.0" height="1.5" fill="#c4007e"/>
<rect x="2148.0" y="1650.0" width="9.0" height="4.4" fill="#c2a470"/>
<rect x="2157.0" y="1647.8" width="8.0" height="1.2" fill="#0ea0e2"/>
<rect x="2157.0" y="1649.0" width="8.0" height="2.0" fill="#c4007e"/>
<rect x="2157.0" y="1651.0" width="8.0" height="3.4" fill="#c2a470"/>
<rect x="2165.0" y="1648.0" width="20.0" height="1.0" fill="#c4007e"/>
<rect x="2165.0" y="1649.0" width="20.0" height="5.4" fill="#c2a470"/>
<rect x="2185.0" y="1648.0" width="1.5" height="6.4" fill="#0ea0e2"/>
<rect x="128.2" y="1112.0" width="0.9" height="542.4" fill="#bd7f95"/>
<rect x="135.9" y="1142.0" width="0.8" height="512.4" fill="#bfad72"/>
<rect x="155.5" y="1220.0" width="1.3" height="434.4" fill="#bd7f95"/>
<rect x="158.2" y="1246.0" width="1.0" height="408.4" fill="#c39a7a"/>
<rect x="169.2" y="1290.0" width="0.8" height="364.4" fill="#c39a7a"/>
<rect x="177.8" y="1345.0" width="1.0" height="309.4" fill="#c39a7a"/>
<rect x="181.9" y="1359.0" width="0.8" height="295.4" fill="#c39a7a"/>
<rect x="198.3" y="1410.0" width="1.2" height="244.4" fill="#c39a7a"/>
<rect x="202.0" y="1410.0" width="0.8" height="244.4" fill="#c39a7a"/>
<rect x="204.2" y="1410.0" width="0.6" height="244.4" fill="#c39a7a"/>
<rect x="216.1" y="1413.0" width="0.6" height="241.4" fill="#c39a7a"/>
<rect x="221.3" y="1417.0" width="0.8" height="237.4" fill="#c39a7a"/>
<rect x="223.6" y="1433.0" width="2.5" height="221.4" fill="#c39a7a"/>
<rect x="237.7" y="1455.0" width="1.0" height="199.4" fill="#8e9ab5"/>
<rect x="241.8" y="1465.0" width="1.0" height="189.4" fill="#c39a7a"/>
<rect x="283.1" y="1568.0" width="0.8" height="86.4" fill="#c39a7a"/>
<rect x="286.8" y="1570.0" width="1.0" height="84.4" fill="#0ea0e2"/>
<rect x="290.9" y="1489.0" width="1.0" height="165.4" fill="#8e9ab5"/>
<rect x="292.8" y="1489.0" width="1.0" height="165.4" fill="#bd7f95"/>
<rect x="296.9" y="1623.0" width="1.0" height="31.4" fill="#bd7f95"/>
<rect x="299.1" y="1497.0" width="0.7" height="157.4" fill="#c39a7a"/>
<rect x="327.9" y="1501.0" width="0.8" height="153.4" fill="#bd7f95"/>
<rect x="332.0" y="1506.0" width="1.1" height="148.4" fill="#0ea0e2"/>
<rect x="348.4" y="1512.0" width="1.0" height="142.4" fill="#c39a7a"/>
<rect x="356.9" y="1521.0" width="1.5" height="133.4" fill="#0ea0e2"/>
<rect x="358.8" y="1521.0" width="1.5" height="133.4" fill="#8e9ab5"/>
<rect x="377.0" y="1523.0" width="0.8" height="131.4" fill="#c39a7a"/>
<rect x="395.2" y="1585.0" width="1.5" height="69.4" fill="#c39a7a"/>
<rect x="413.8" y="1535.0" width="1.2" height="119.4" fill="#0ea0e2"/>
<rect x="418.7" y="1535.0" width="1.0" height="119.4" fill="#bd7f95"/>
<rect x="431.3" y="1539.0" width="0.6" height="115.4" fill="#c39a7a"/>
<rect x="440.6" y="1540.0" width="1.1" height="114.4" fill="#0ea0e2"/>
<rect x="445.8" y="1540.0" width="1.2" height="114.4" fill="#0ea0e2"/>
<rect x="450.7" y="1561.0" width="1.2" height="93.4" fill="#c4007e"/>
<rect x="479.8" y="1566.0" width="1.1" height="88.4" fill="#8e9ab5"/>
<rect x="488.3" y="1580.0" width="2.2" height="74.4" fill="#c39a7a"/>
<rect x="533.3" y="1568.2" width="2.3" height="86.2" fill="#c39a7a"/>
<rect x="556.8" y="1572.0" width="1.5" height="82.4" fill="#bd7f95"/>
<rect x="564.6" y="1574.5" width="1.4" height="79.9" fill="#c39a7a"/>
<rect x="600.0" y="1621.3" width="1.0" height="33.1" fill="#c39a7a"/>
<rect x="611.2" y="1617.8" width="1.4" height="36.6" fill="#c39a7a"/>
<rect x="617.9" y="1583.0" width="1.8" height="71.4" fill="#c39a7a"/>
<rect x="653.6" y="1587.1" width="1.4" height="67.3" fill="#93c6b9"/>
<rect x="657.3" y="1591.2" width="0.8" height="63.2" fill="#bd7f95"/>
<rect x="664.0" y="1605.0" width="3.0" height="49.4" fill="#c39a7a"/>
<rect x="670.0" y="1597.1" width="1.8" height="57.3" fill="#93c6b9"/>
<rect x="673.7" y="1599.0" width="2.9" height="55.4" fill="#93c6b9"/>
<rect x="677.0" y="1599.0" width="1.1" height="55.4" fill="#bd7f95"/>
<rect x="680.0" y="1600.3" width="1.8" height="54.1" fill="#0ea0e2"/>
<rect x="684.0" y="1602.0" width="0.8" height="52.4" fill="#c4007e"/>
<rect x="685.2" y="1602.0" width="1.1" height="52.4" fill="#93c6b9"/>
<rect x="730.2" y="1632.1" width="0.7" height="22.3" fill="#c39a7a"/>
<rect x="743.6" y="1632.1" width="1.1" height="22.3" fill="#c4007e"/>
<rect x="838.0" y="1616.0" width="1.0" height="38.4" fill="#c4007e"/>
<rect x="852.6" y="1617.5" width="1.2" height="36.9" fill="#bd7f95"/>
<rect x="855.0" y="1617.5" width="0.8" height="36.9" fill="#c4007e"/>
<rect x="872.9" y="1619.0" width="1.9" height="35.4" fill="#bd7f95"/>
<rect x="1031.5" y="1625.0" width="1.0" height="29.4" fill="#bd7f95"/>
<rect x="1042.0" y="1625.3" width="1.0" height="29.1" fill="#c39a7a"/>
<rect x="1190.0" y="1637.0" width="1.0" height="17.4" fill="#bd7f95"/>
<rect x="1214.0" y="1631.0" width="1.0" height="23.4" fill="#c4007e"/>
<rect x="1216.5" y="1631.0" width="1.0" height="23.4" fill="#bd7f95"/>
</g>
<line x1="83.5" y1="1654.4" x2="2268.8" y2="1654.4" stroke="#000" stroke-width="1.6"/>
<line x1="107.1" y1="1654.4" x2="107.1" y2="1679.5" stroke="#000" stroke-width="1.6"/>
<text x="99.60" y="1703.0" font-size="26.5" fill="#000" textLength="15.00" lengthAdjust="spacingAndGlyphs" stroke="#f2f5f6" stroke-width="0.3">0</text>
<line x1="812.2" y1="1654.4" x2="812.2" y2="1679.5" stroke="#000" stroke-width="1.6"/>
<text x="788.20" y="1703.0" font-size="26.5" fill="#000" textLength="46.60" lengthAdjust="spacingAndGlyphs" stroke="#f2f5f6" stroke-width="0.3">200</text>
<line x1="1517.3" y1="1654.4" x2="1517.3" y2="1679.5" stroke="#000" stroke-width="1.6"/>
<text x="1494.20" y="1703.0" font-size="26.5" fill="#000" textLength="46.00" lengthAdjust="spacingAndGlyphs" stroke="#f2f5f6" stroke-width="0.3">400</text>
<line x1="2222.4" y1="1654.4" x2="2222.4" y2="1679.5" stroke="#000" stroke-width="1.6"/>
<text x="2198.40" y="1703.0" font-size="26.5" fill="#000" textLength="48.00" lengthAdjust="spacingAndGlyphs" stroke="#f2f5f6" stroke-width="0.3">600</text>
<text x="894.00" y="1742.1" font-size="26.5" fill="#000" textLength="536.00" lengthAdjust="spacingAndGlyphs" stroke="#000" stroke-width="0.45">Exportwerte im Jahr 2019 (in Milliarden Euro)</text>
<line x1="1690.8" y1="350" x2="1690.8" y2="1657" stroke="#c5103e" stroke-width="3.8" stroke-linecap="round"/>
<text x="1707.00" y="375.7" font-size="26.4" fill="#c5103e" textLength="167.00" lengthAdjust="spacingAndGlyphs" stroke="#c5103e" stroke-width="0.6">Fünf-Prozent-</text>
<text x="1707.00" y="405.9" font-size="26.4" fill="#c5103e" textLength="219.00" lengthAdjust="spacingAndGlyphs" stroke="#c5103e" stroke-width="0.6">Kostensteigerung</text>
<rect x="1243.5" y="378" width="47.5" height="23.5" fill="#0ea0e2"/>
<text x="1303.00" y="402.3" font-size="28.5" fill="#000" textLength="76.00" lengthAdjust="spacingAndGlyphs" stroke="#f2f5f6" stroke-width="0.3">Plastik</text>
<rect x="1243.5" y="420" width="47.5" height="23.5" fill="#c4007e"/>
<text x="1305.00" y="444.2" font-size="28.5" fill="#000" textLength="128.00" lengthAdjust="spacingAndGlyphs" stroke="#f2f5f6" stroke-width="0.3">Aluminium</text>
<rect x="1243.5" y="461" width="47.5" height="23.5" fill="#c2a470"/>
<text x="1304.00" y="485.0" font-size="28.5" fill="#000" textLength="60.00" lengthAdjust="spacingAndGlyphs" stroke="#f2f5f6" stroke-width="0.3">Stahl</text>
<rect x="1477" y="378.7" width="47.5" height="23.5" fill="#9a9d8d"/>
<text x="1537.00" y="403.3" font-size="28.5" fill="#000" textLength="90.00" lengthAdjust="spacingAndGlyphs" stroke="#f2f5f6" stroke-width="0.3">Zement</text>
<rect x="1477" y="420.2" width="47.5" height="23.5" fill="#93c6b9"/>
<text x="1536.00" y="444.4" font-size="28.5" fill="#000" textLength="77.00" lengthAdjust="spacingAndGlyphs" stroke="#f2f5f6" stroke-width="0.3">Papier</text>
<rect x="1477" y="461.5" width="47.5" height="23.5" fill="#ebe823"/>
<text x="1538.00" y="486.0" font-size="28.5" fill="#000" textLength="89.00" lengthAdjust="spacingAndGlyphs" stroke="#f2f5f6" stroke-width="0.3">Zellstoff</text>
<text x="146.00" y="389.8" font-size="26.3" fill="#000" textLength="171.00" lengthAdjust="spacingAndGlyphs" stroke="#f2f5f6" stroke-width="0.3">Zementklinker</text>
<text x="147.00" y="537.3" font-size="26.3" fill="#000" textLength="183.00" lengthAdjust="spacingAndGlyphs" stroke="#f2f5f6" stroke-width="0.3">Rohaluminium-</text>
<text x="147.00" y="566.0" font-size="26.3" fill="#000" textLength="144.00" lengthAdjust="spacingAndGlyphs" stroke="#f2f5f6" stroke-width="0.3">legierungen</text>
<text x="148.00" y="707.9" font-size="26.3" fill="#000" textLength="217.00" lengthAdjust="spacingAndGlyphs" stroke="#f2f5f6" stroke-width="0.3">Flache Halbzeuge</text>
<text x="149.00" y="736.7" font-size="26.3" fill="#000" textLength="262.00" lengthAdjust="spacingAndGlyphs" stroke="#f2f5f6" stroke-width="0.3">aus unlegiertem Stahl</text>
<text x="166.00" y="813.8" font-size="26.3" fill="#000" textLength="346.00" lengthAdjust="spacingAndGlyphs" stroke="#f2f5f6" stroke-width="0.3">Aluminiumlegierungsplatten,</text>
<text x="165.00" y="842.5" font-size="26.3" fill="#000" textLength="240.00" lengthAdjust="spacingAndGlyphs" stroke="#f2f5f6" stroke-width="0.3">-bleche und -bänder</text>
<text x="165.00" y="871.0" font-size="26.3" fill="#000" textLength="131.00" lengthAdjust="spacingAndGlyphs" stroke="#f2f5f6" stroke-width="0.3">(&gt; 0,2 mm)</text>
<text x="258.00" y="923.8" font-size="26.3" fill="#000" textLength="155.00" lengthAdjust="spacingAndGlyphs" stroke="#f2f5f6" stroke-width="0.3">Getriebe und</text>
<text x="258.00" y="952.3" font-size="26.3" fill="#000" textLength="154.00" lengthAdjust="spacingAndGlyphs" stroke="#f2f5f6" stroke-width="0.3">Getriebeteile</text>
<text x="305.00" y="998.2" font-size="26.3" fill="#000" textLength="287.00" lengthAdjust="spacingAndGlyphs" stroke="#f2f5f6" stroke-width="0.3">Instrumente und Geräte</text>
<text x="307.00" y="1028.4" font-size="26.3" fill="#000" textLength="331.00" lengthAdjust="spacingAndGlyphs" stroke="#f2f5f6" stroke-width="0.3">aus den Bereichen Medizin,</text>
<text x="306.00" y="1057.2" font-size="26.3" fill="#000" textLength="330.00" lengthAdjust="spacingAndGlyphs" stroke="#f2f5f6" stroke-width="0.3">Chirurgie, Veterinärmedizin</text>
<text x="362.00" y="1105.0" font-size="26.3" fill="#000" textLength="252.00" lengthAdjust="spacingAndGlyphs" stroke="#f2f5f6" stroke-width="0.3">Elektrodiagnostische</text>
<text x="363.00" y="1134.1" font-size="26.3" fill="#000" textLength="253.00" lengthAdjust="spacingAndGlyphs" stroke="#f2f5f6" stroke-width="0.3">Geräte (ohne Elektro-</text>
<text x="362.00" y="1163.0" font-size="26.3" fill="#000" textLength="185.00" lengthAdjust="spacingAndGlyphs" stroke="#f2f5f6" stroke-width="0.3">kardiographen)</text>
<text x="401.00" y="1206.3" font-size="26.3" fill="#000" textLength="224.00" lengthAdjust="spacingAndGlyphs" stroke="#f2f5f6" stroke-width="0.3">Andere elektrische</text>
<text x="399.00" y="1236.0" font-size="26.3" fill="#000" textLength="332.00" lengthAdjust="spacingAndGlyphs" stroke="#f2f5f6" stroke-width="0.3">Leiter (Spannung ≤ 1 000 v)</text>
<text x="582.00" y="1292.9" font-size="26.3" fill="#000" textLength="223.00" lengthAdjust="spacingAndGlyphs" stroke="#f2f5f6" stroke-width="0.3">Andere Maschinen</text>
<text x="580.00" y="1322.3" font-size="26.3" fill="#000" textLength="212.00" lengthAdjust="spacingAndGlyphs" stroke="#f2f5f6" stroke-width="0.3">und mechanische</text>
<text x="580.00" y="1351.8" font-size="26.3" fill="#000" textLength="248.00" lengthAdjust="spacingAndGlyphs" stroke="#f2f5f6" stroke-width="0.3">Geräte (HS-Code 84)</text>
<text x="628.00" y="1394.1" font-size="26.3" fill="#000" textLength="311.00" lengthAdjust="spacingAndGlyphs" stroke="#f2f5f6" stroke-width="0.3">Nutzfahrzeuge mit Diesel-</text>
<text x="629.00" y="1424.1" font-size="26.3" fill="#000" textLength="259.00" lengthAdjust="spacingAndGlyphs" stroke="#f2f5f6" stroke-width="0.3">oder Halbdieselmotor</text>
<text x="629.00" y="1453.6" font-size="26.3" fill="#000" textLength="265.00" lengthAdjust="spacingAndGlyphs" stroke="#f2f5f6" stroke-width="0.3">(Gesamtgewicht ≤ 5 t)</text>
<text x="732.00" y="1493.2" font-size="26.3" fill="#000" textLength="307.00" lengthAdjust="spacingAndGlyphs" stroke="#f2f5f6" stroke-width="0.3">Bremsen und Bremskraft-</text>
<text x="734.00" y="1523.2" font-size="26.3" fill="#000" textLength="313.00" lengthAdjust="spacingAndGlyphs" stroke="#f2f5f6" stroke-width="0.3">verstärker und deren Teile</text>
<text x="783.00" y="1562.1" font-size="26.3" fill="#000" textLength="301.00" lengthAdjust="spacingAndGlyphs" stroke="#f2f5f6" stroke-width="0.3">Fahrzeuge mit Ottomotor</text>
<text x="783.00" y="1590.7" font-size="26.3" fill="#000" textLength="280.00" lengthAdjust="spacingAndGlyphs" stroke="#f2f5f6" stroke-width="0.3">(Hubraum ≤ 1 500 cm³)</text>
<text x="1107.00" y="1255.7" font-size="26.3" fill="#000" textLength="220.00" lengthAdjust="spacingAndGlyphs" stroke="#f2f5f6" stroke-width="0.3">Kraftfahrzeuge mit</text>
<text x="1107.00" y="1284.4" font-size="26.3" fill="#000" textLength="336.00" lengthAdjust="spacingAndGlyphs" stroke="#f2f5f6" stroke-width="0.3">Diesel- oder Teildieselmotor</text>
<text x="1108.00" y="1313.2" font-size="26.3" fill="#000" textLength="350.00" lengthAdjust="spacingAndGlyphs" stroke="#f2f5f6" stroke-width="0.3">&gt; 1 500 cm³ und ≤ 2 500 cm³</text>
<text x="1191.00" y="1366.1" font-size="26.3" fill="#000" textLength="269.00" lengthAdjust="spacingAndGlyphs" stroke="#f2f5f6" stroke-width="0.3">Straßenzugmaschinen</text>
<text x="1192.00" y="1394.9" font-size="26.3" fill="#000" textLength="210.00" lengthAdjust="spacingAndGlyphs" stroke="#f2f5f6" stroke-width="0.3">für Sattelauflieger</text>
<text x="1377.00" y="1443.3" font-size="26.3" fill="#000" textLength="221.00" lengthAdjust="spacingAndGlyphs" stroke="#f2f5f6" stroke-width="0.3">Kraftfahrzeuge mit</text>
<text x="1377.00" y="1472.0" font-size="26.3" fill="#000" textLength="154.00" lengthAdjust="spacingAndGlyphs" stroke="#f2f5f6" stroke-width="0.3">Benzinmotor</text>
<text x="1378.00" y="1501.4" font-size="26.3" fill="#000" textLength="143.00" lengthAdjust="spacingAndGlyphs" stroke="#f2f5f6" stroke-width="0.3">&gt; 1 500 cm³</text>
<text x="1457.00" y="1549.8" font-size="26.3" fill="#000" textLength="226.00" lengthAdjust="spacingAndGlyphs" stroke="#f2f5f6" stroke-width="0.3">Neue Gummireifen</text>
<text x="1458.00" y="1578.5" font-size="26.3" fill="#000" textLength="215.00" lengthAdjust="spacingAndGlyphs" stroke="#f2f5f6" stroke-width="0.3">für Kraftfahrzeuge</text>
<line x1="107.7" y1="411.7" x2="140" y2="380" stroke="#222" stroke-width="1.3"/>
<line x1="109.5" y1="578" x2="140.9" y2="546.8" stroke="#222" stroke-width="1.3"/>
<line x1="110.5" y1="748" x2="142" y2="716" stroke="#222" stroke-width="1.3"/>
<line x1="126.5" y1="853" x2="158" y2="822" stroke="#222" stroke-width="1.3"/>
<line x1="264.5" y1="960" x2="264.5" y2="1477" stroke="#222" stroke-width="1.3"/>
<line x1="314" y1="1063" x2="314" y2="1499" stroke="#222" stroke-width="1.3"/>
<line x1="367.7" y1="1170" x2="367.7" y2="1522" stroke="#222" stroke-width="1.3"/>
<line x1="403.8" y1="1241" x2="403.8" y2="1528" stroke="#222" stroke-width="1.3"/>
<line x1="583.6" y1="1360" x2="583.6" y2="1574" stroke="#222" stroke-width="1.3"/>
<line x1="637.1" y1="1464" x2="637.1" y2="1586" stroke="#222" stroke-width="1.3"/>
<line x1="736.8" y1="1530" x2="736.8" y2="1609" stroke="#222" stroke-width="1.3"/>
<line x1="920.1" y1="1600" x2="920.1" y2="1619.6" stroke="#222" stroke-width="1.3"/>
<line x1="1110.6" y1="1321.4" x2="1110.6" y2="1627.5" stroke="#222" stroke-width="1.3"/>
<line x1="1195.3" y1="1406" x2="1195.3" y2="1630.5" stroke="#222" stroke-width="1.3"/>
<line x1="1382" y1="1511" x2="1382" y2="1632" stroke="#222" stroke-width="1.3"/>
<line x1="1589.8" y1="1586.7" x2="1589.8" y2="1634.8" stroke="#222" stroke-width="1.3"/>
<text x="30.00" y="1819.4" font-size="27" fill="#8b8b8b" textLength="2193.00" lengthAdjust="spacingAndGlyphs">Anmerkung: Exporte im Wert von 23 Prozent (fast 450 Milliarden Euro) des Gesamtwerts der Exporte im verarbeitenden Gewerbe wären bei einem Kohlenstoffpreis von 75 Euro mit einem Anstieg der Kosten im Verhältnis zur</text>
<text x="28.00" y="1854.2" font-size="27" fill="#8b8b8b" textLength="619.00" lengthAdjust="spacingAndGlyphs">Bruttowertschöpfung von mindestens fünf Prozent verbunden.</text>
<text x="29.00" y="1913.0" font-size="27" fill="#8b8b8b" textLength="693.00" lengthAdjust="spacingAndGlyphs">Quelle: Eigene Darstellung basierend auf Jan Stede et al. ((2021), a.a.O.</text>
<text x="2090.00" y="1986.5" font-size="24.5" fill="#13817a" textLength="195.00" lengthAdjust="spacingAndGlyphs" stroke="#f2f5f6" stroke-width="0.3">© DIW Berlin 2025</text>
<line x1="30" y1="1999" x2="2285" y2="1999" stroke="#13817a" stroke-width="2"/>
<text x="29.00" y="2059.0" font-size="31" fill="#13817a" textLength="1635.00" lengthAdjust="spacingAndGlyphs" stroke="#f2f5f6" stroke-width="0.3">Höhere Preise für Grundstoffe können zu erheblichen Kostensteigerungen für Hersteller von Zwischenprodukten führen.</text>
</svg>
</body></html>
